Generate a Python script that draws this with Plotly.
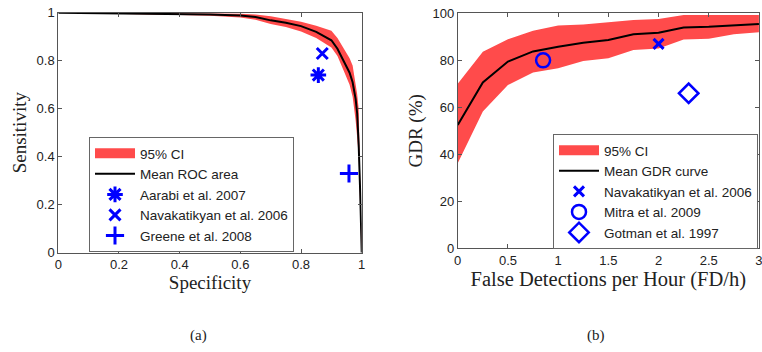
import plotly.graph_objects as go

# ---------- Panel (a): ROC ----------
spec = [0, 0.1, 0.2, 0.3, 0.4, 0.5, 0.6, 0.65, 0.7, 0.75, 0.8, 0.85, 0.9, 0.92, 0.94, 0.96, 0.97, 0.98, 0.985, 0.99, 0.995, 0.998, 1.0]
roc_mean = [1, 0.999, 0.998, 0.996, 0.994, 0.992, 0.988, 0.982, 0.968, 0.958, 0.944, 0.92, 0.885, 0.85, 0.80, 0.75, 0.71, 0.64, 0.58, 0.45, 0.25, 0.05, 0]
roc_upper = [1, 1, 1, 0.999, 0.998, 0.997, 0.995, 0.992, 0.985, 0.975, 0.962, 0.945, 0.925, 0.895, 0.855, 0.81, 0.78, 0.71, 0.66, 0.60, 0.35, 0.1, 0]
roc_lower = [1, 0.998, 0.995, 0.992, 0.99, 0.987, 0.98, 0.97, 0.953, 0.94, 0.922, 0.895, 0.855, 0.82, 0.76, 0.70, 0.65, 0.55, 0.48, 0.40, 0.2, 0.05, 0]

aarabi = (0.857, 0.74)
navak_a = (0.87, 0.83)
greene = (0.958, 0.33)

# ---------- Panel (b): GDR ----------
fdh = [0, 0.25, 0.5, 0.75, 1.0, 1.25, 1.5, 1.75, 2.0, 2.25, 2.5, 2.75, 3.0]
gdr_mean = [52.5, 70.6, 79.5, 83.8, 85.8, 87.5, 88.7, 91.1, 91.8, 94.0, 94.3, 95.0, 95.5]
gdr_upper = [70, 83.7, 89, 92.6, 94.8, 95.3, 96.2, 97.2, 97.6, 99.3, 99.3, 99.3, 99.3]
gdr_lower = [36.2, 58.2, 69.5, 74.8, 76.6, 79.7, 80.9, 84.4, 85.1, 88.9, 89.2, 91.1, 92.0]

navak_b = (2.0, 87)
mitra = (0.85, 80)
gotman = (2.3, 66)

RED = "#FF4B4B"
BLUE = "#0000FF"

fig = go.Figure()

# Panel (a)
fig.add_trace(go.Scatter(
    x=spec + spec[::-1], y=roc_upper + roc_lower[::-1],
    fill="toself", fillcolor=RED, line=dict(width=0, color=RED),
    mode="lines", name="95% CI", showlegend=False, xaxis="x", yaxis="y"))
fig.add_trace(go.Scatter(  # legend swatch for the CI band
    x=[None], y=[None], mode="lines", line=dict(color=RED, width=14),
    name="95% CI", xaxis="x", yaxis="y", legend="legend"))
fig.add_trace(go.Scatter(
    x=spec, y=roc_mean, mode="lines", line=dict(color="black", width=2),
    name="Mean ROC area", xaxis="x", yaxis="y", legend="legend"))
fig.add_trace(go.Scatter(
    x=[aarabi[0]], y=[aarabi[1]], mode="markers", name="Aarabi et al. 2007",
    marker=dict(symbol="asterisk-open", size=13, color=BLUE, line=dict(color=BLUE, width=3)),
    xaxis="x", yaxis="y", legend="legend"))
fig.add_trace(go.Scatter(
    x=[navak_a[0]], y=[navak_a[1]], mode="markers", name="Navakatikyan et al. 2006",
    marker=dict(symbol="x-thin-open", size=11, color=BLUE, line=dict(color=BLUE, width=3)),
    xaxis="x", yaxis="y", legend="legend"))
fig.add_trace(go.Scatter(
    x=[greene[0]], y=[greene[1]], mode="markers", name="Greene et al. 2008",
    marker=dict(symbol="cross-thin-open", size=13, color=BLUE, line=dict(color=BLUE, width=3)),
    xaxis="x", yaxis="y", legend="legend"))

# Panel (b)
fig.add_trace(go.Scatter(
    x=fdh + fdh[::-1], y=gdr_upper + gdr_lower[::-1],
    fill="toself", fillcolor=RED, line=dict(width=0, color=RED),
    mode="lines", name="95% CI", showlegend=False, xaxis="x2", yaxis="y2"))
fig.add_trace(go.Scatter(  # legend swatch for the CI band
    x=[None], y=[None], mode="lines", line=dict(color=RED, width=14),
    name="95% CI", xaxis="x2", yaxis="y2", legend="legend2"))
fig.add_trace(go.Scatter(
    x=fdh, y=gdr_mean, mode="lines", line=dict(color="black", width=2),
    name="Mean GDR curve", xaxis="x2", yaxis="y2", legend="legend2"))
fig.add_trace(go.Scatter(
    x=[navak_b[0]], y=[navak_b[1]], mode="markers", name="Navakatikyan et al. 2006",
    marker=dict(symbol="x-thin-open", size=10, color=BLUE, line=dict(color=BLUE, width=3)),
    xaxis="x2", yaxis="y2", legend="legend2"))
fig.add_trace(go.Scatter(
    x=[mitra[0]], y=[mitra[1]], mode="markers", name="Mitra et al. 2009",
    marker=dict(symbol="circle-open", size=14, color=BLUE, line=dict(color=BLUE, width=2.5)),
    xaxis="x2", yaxis="y2", legend="legend2"))
fig.add_trace(go.Scatter(
    x=[gotman[0]], y=[gotman[1]], mode="markers", name="Gotman et al. 1997",
    marker=dict(symbol="diamond-open", size=15, color=BLUE, line=dict(color=BLUE, width=2.5)),
    xaxis="x2", yaxis="y2", legend="legend2"))

tickfont = dict(family="Liberation Sans, Arial", size=13, color="#222")


def tfont(size):
    return dict(family="Liberation Serif, serif", size=size, color="#222")


axcommon = dict(showline=True, linecolor="#555", linewidth=1, mirror="ticks",
                ticks="inside", ticklen=4, tickcolor="#555", showgrid=False,
                zeroline=False, tickfont=tickfont, ticklabeloverflow="allow")

legfont = dict(family="Liberation Sans, Arial", size=13.5, color="#222")

fig.update_layout(
    width=762, height=352,
    margin=dict(l=0, r=0, t=0, b=0, autoexpand=False),
    paper_bgcolor="white", plot_bgcolor="white",
    xaxis=dict(domain=[0.0765, 0.4747], range=[0, 1], dtick=0.2, anchor="y",
               title=dict(text="Specificity", font=tfont(19), standoff=2), **axcommon),
    yaxis=dict(domain=[0.282, 0.964], range=[0, 1], dtick=0.2, anchor="x",
               title=dict(text="Sensitivity", font=tfont(19), standoff=4), **axcommon),
    xaxis2=dict(domain=[0.6007, 0.996], range=[0, 3], dtick=0.5, anchor="y2",
                title=dict(text="False Detections per Hour (FD/h)", font=tfont(20.5), standoff=0), **axcommon),
    yaxis2=dict(domain=[0.2946, 0.962], range=[0, 100], dtick=20, anchor="x2",
                title=dict(text="GDR (%)", font=tfont(19), standoff=4), **axcommon),
    legend=dict(x=89 / 762, y=1 - 137 / 352, xanchor="left", yanchor="top",
                bordercolor="#666", borderwidth=1, bgcolor="white",
                font=legfont, itemwidth=40, tracegroupgap=0),
    legend2=dict(x=553 / 762, y=1 - 134 / 352, xanchor="left", yanchor="top",
                 bordercolor="#666", borderwidth=1, bgcolor="white",
                 font=legfont, itemwidth=40, tracegroupgap=0),
    annotations=[
        dict(text="(a)", x=198 / 762, y=1 - 335 / 352, xref="paper", yref="paper",
             xanchor="center", yanchor="middle", showarrow=False, font=tfont(15)),
        dict(text="(b)", x=596 / 762, y=1 - 335 / 352, xref="paper", yref="paper",
             xanchor="center", yanchor="middle", showarrow=False, font=tfont(15)),
    ],
)

fig.write_html("out.html", config={"displayModeBar": False},
               post_script="document.body.style.margin='0';")
